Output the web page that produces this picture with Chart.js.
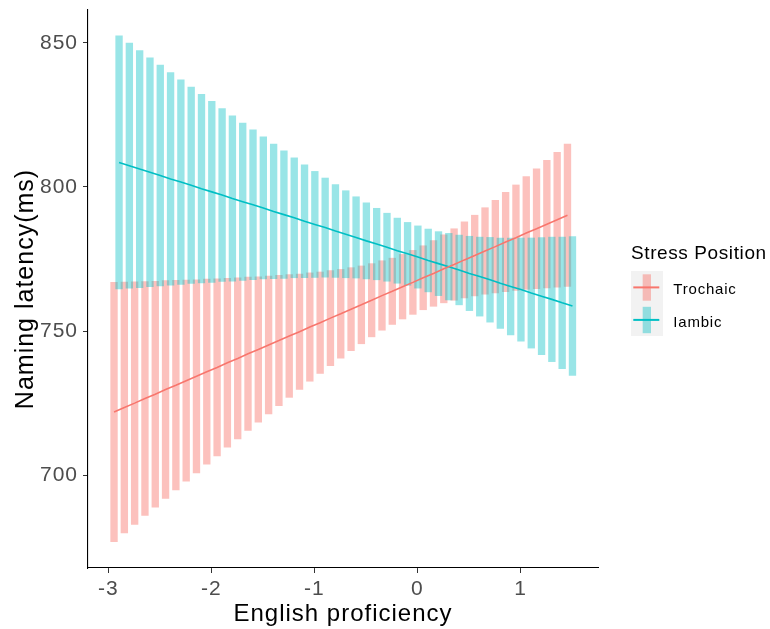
<!DOCTYPE html>
<html>
<head>
<meta charset="utf-8">
<script src="https://cdn.jsdelivr.net/npm/chart.js@4"></script>
<style>
  html, body { margin: 0; padding: 0; background: #ffffff; }
  #wrap { width: 770px; height: 629px; position: relative; }
</style>
</head>
<body>
<div id="wrap"><canvas id="chart" width="770" height="629"></canvas></div>
<script>
// English proficiency grid at which the model predictions are shown
const proficiency = [-2.92, -2.82, -2.72, -2.62, -2.52, -2.42, -2.32, -2.22, -2.12, -2.02,
  -1.92, -1.82, -1.72, -1.62, -1.52, -1.42, -1.32, -1.22, -1.12, -1.02,
  -0.92, -0.82, -0.72, -0.62, -0.52, -0.42, -0.32, -0.22, -0.12, -0.02,
  0.08, 0.18, 0.28, 0.38, 0.48, 0.58, 0.68, 0.78, 0.88, 0.98,
  1.08, 1.18, 1.28, 1.38, 1.48];

// Trochaic: predicted naming latency and its confidence band (ms)
const trochaicFit = [721.9, 723.5, 725.0, 726.6, 728.1, 729.7, 731.2, 732.8, 734.3, 735.9,
  737.4, 739.0, 740.5, 742.1, 743.6, 745.2, 746.7, 748.3, 749.8, 751.4,
  752.9, 754.5, 756.0, 757.6, 759.1, 760.7, 762.3, 763.8, 765.4, 766.9,
  768.5, 770.0, 771.6, 773.1, 774.7, 776.2, 777.8, 779.3, 780.9, 782.4,
  784.0, 785.5, 787.1, 788.6, 790.2];
const trochaicLower = [676.9, 680.0, 682.9, 686.0, 688.9, 691.9, 694.9, 697.9, 700.8, 703.8,
  706.7, 709.7, 712.6, 715.5, 718.4, 721.3, 724.1, 727.0, 729.8, 732.6,
  735.3, 738.0, 740.6, 743.2, 745.6, 748.0, 750.3, 752.3, 754.2, 755.8,
  757.4, 758.6, 759.8, 760.7, 761.5, 762.2, 762.8, 763.2, 763.7, 764.1,
  764.5, 764.7, 765.0, 765.2, 765.5];
const trochaicUpper = [766.9, 767.0, 767.1, 767.2, 767.3, 767.5, 767.6, 767.7, 767.8, 768.0,
  768.1, 768.3, 768.5, 768.7, 768.8, 769.1, 769.3, 769.6, 769.8, 770.2,
  770.5, 771.0, 771.4, 772.0, 772.6, 773.4, 774.4, 775.3, 776.6, 778.0,
  779.6, 781.4, 783.4, 785.5, 787.9, 790.2, 792.8, 795.4, 798.1, 800.7,
  803.6, 806.3, 809.2, 812.0, 814.9];

// Iambic: predicted naming latency and its confidence band (ms)
const iambicFit = [808.5, 807.4, 806.2, 805.1, 804.0, 802.8, 801.7, 800.6, 799.4, 798.3,
  797.2, 796.0, 794.9, 793.8, 792.7, 791.5, 790.4, 789.3, 788.1, 787.0,
  785.9, 784.7, 783.6, 782.5, 781.3, 780.2, 779.1, 777.9, 776.8, 775.7,
  774.5, 773.4, 772.3, 771.2, 770.0, 768.9, 767.8, 766.6, 765.5, 764.4,
  763.2, 762.1, 761.0, 759.8, 758.7];
const iambicLower = [764.6, 764.9, 765.1, 765.4, 765.7, 765.9, 766.2, 766.5, 766.7, 766.9,
  767.2, 767.3, 767.6, 767.8, 768.1, 768.2, 768.3, 768.5, 768.5, 768.6,
  768.7, 768.6, 768.5, 768.4, 768.1, 767.8, 767.3, 766.6, 765.9, 764.9,
  763.6, 762.3, 760.8, 759.1, 757.1, 755.2, 753.1, 750.9, 748.7, 746.5,
  744.1, 741.8, 739.4, 737.0, 734.6];
const iambicUpper = [852.4, 849.9, 847.3, 844.8, 842.3, 839.7, 837.2, 834.7, 832.1, 829.7,
  827.2, 824.7, 822.2, 819.8, 817.4, 814.9, 812.5, 810.1, 807.7, 805.4,
  803.1, 800.8, 798.7, 796.6, 794.5, 792.6, 790.9, 789.2, 787.7, 786.5,
  785.4, 784.5, 783.9, 783.3, 782.9, 782.6, 782.5, 782.3, 782.3, 782.3,
  782.3, 782.4, 782.6, 782.6, 782.8];

const seriesNames = ['Trochaic', 'Iambic'];
const legendTitle = 'Stress Position';
const xTitle = 'English proficiency';
const yTitle = 'Naming latency(ms)';
const xTickValues = [-3, -2, -1, 0, 1];
const yTickValues = [700, 750, 800, 850];

// ---- appearance ----
const COLORS = ['#F8766D', '#00BFC4'];
const BAND_ALPHA = [0.45, 0.4];
const X_MIN = -3.197, X_MAX = 1.752;
const Y_MIN = 667.8, Y_MAX = 861.4;
const DODGE = 0.0243;           // half the side-by-side offset between the two groups
const FONT = '"Liberation Sans", Arial, Helvetica, sans-serif';

function withAlpha(hex, a) {
  const n = parseInt(hex.slice(1), 16);
  return `rgba(${(n >> 16) & 255}, ${(n >> 8) & 255}, ${n & 255}, ${a})`;
}

function bandDataset(k, lower, upper, axisId, order) {
  return {
    type: 'bar',
    label: seriesNames[k],
    data: proficiency.map((x, i) => ({ x: x, y: [lower[i], upper[i]] })),
    backgroundColor: withAlpha(COLORS[k], BAND_ALPHA[k]),
    borderWidth: 0,
    borderSkipped: false,
    barThickness: 6.7,
    grouped: false,
    xAxisID: axisId,
    order: order
  };
}

function fitDataset(k, fit, axisId, order) {
  return {
    type: 'line',
    label: seriesNames[k],
    data: proficiency.map((x, i) => ({ x: x, y: fit[i] })),
    borderColor: COLORS[k],
    borderWidth: 1.6,
    pointRadius: 0,
    fill: false,
    tension: 0,
    xAxisID: axisId,
    order: order
  };
}

// Slightly wider glyph spacing for all chart text
const textSpacing = {
  id: 'textSpacing',
  beforeDraw(chart) { chart.ctx.letterSpacing = '1px'; }
};

// Legend with ggplot-style keys (band + line on a grey key background)
const stressLegend = {
  id: 'stressLegend',
  afterDraw(chart) {
    const ctx = chart.ctx;
    ctx.save();
    ctx.letterSpacing = '0.6px';
    ctx.textAlign = 'left';
    ctx.textBaseline = 'alphabetic';
    ctx.fillStyle = '#000000';
    ctx.font = '19px ' + FONT;
    ctx.fillText(legendTitle, 631, 259);

    ctx.fillStyle = '#F2F2F2';
    ctx.fillRect(631, 271, 32, 65);

    seriesNames.forEach((name, k) => {
      const top = 271 + k * 32.5;
      ctx.fillStyle = withAlpha(COLORS[k], BAND_ALPHA[k]);
      ctx.fillRect(642.7, top + 3.3, 8.3, 26.4);
      ctx.strokeStyle = COLORS[k];
      ctx.lineWidth = 2;
      ctx.beginPath();
      ctx.moveTo(633.3, top + 16.4);
      ctx.lineTo(659.3, top + 16.4);
      ctx.stroke();
      ctx.fillStyle = '#000000';
      ctx.font = '15px ' + FONT;
      ctx.letterSpacing = '0.8px';
      ctx.fillText(name, 673.3, top + 23.3);
    });
    ctx.restore();
  }
};

Chart.defaults.font.family = FONT;

const hiddenX = (shift) => ({
  type: 'linear',
  display: false,
  offset: false,
  min: X_MIN + shift,
  max: X_MAX + shift
});

new Chart(document.getElementById('chart'), {
  type: 'bar',
  data: {
    datasets: [
      fitDataset(0, trochaicFit, 'xTrochaic', 0),
      fitDataset(1, iambicFit, 'xIambic', 0),
      bandDataset(1, iambicLower, iambicUpper, 'xIambic', 1),
      bandDataset(0, trochaicLower, trochaicUpper, 'xTrochaic', 2)
    ]
  },
  options: {
    responsive: false,
    animation: false,
    devicePixelRatio: 1,
    layout: { padding: { top: 10, right: 172, bottom: 0, left: 0 } },
    plugins: {
      legend: { display: false },
      tooltip: { enabled: false }
    },
    scales: {
      x: {
        type: 'linear',
        position: 'bottom',
        offset: false,
        min: X_MIN,
        max: X_MAX,
        afterBuildTicks: (s) => { s.ticks = xTickValues.map(v => ({ value: v })); },
        afterFit: (s) => { s.height = 61; s.paddingLeft = 0; s.paddingRight = 0; },
        grid: { offset: false, drawOnChartArea: false, drawTicks: true, tickLength: 5, color: '#333333', lineWidth: 1 },
        border: { display: true, color: '#000000', width: 1.1 },
        ticks: { color: '#4D4D4D', font: { size: 21 }, padding: 4, maxRotation: 0, autoSkip: false },
        title: { display: true, text: xTitle, color: '#000000', font: { size: 24 }, padding: { top: 0, bottom: 0 } }
      },
      xTrochaic: hiddenX(DODGE),
      xIambic: hiddenX(-DODGE),
      y: {
        type: 'linear',
        position: 'left',
        min: Y_MIN,
        max: Y_MAX,
        beginAtZero: false,
        afterBuildTicks: (s) => { s.ticks = yTickValues.map(v => ({ value: v })); },
        afterFit: (s) => { s.width = 88; s.paddingTop = 0; s.paddingBottom = 0; },
        grid: { drawOnChartArea: false, drawTicks: true, tickLength: 5, color: '#333333', lineWidth: 1 },
        border: { display: true, color: '#000000', width: 1.1 },
        ticks: { color: '#4D4D4D', font: { size: 21 }, padding: 5 },
        title: { display: true, text: yTitle, color: '#000000', font: { size: 25 }, padding: { top: 11.5, bottom: 0 } }
      }
    }
  },
  plugins: [textSpacing, stressLegend]
});
</script>
</body>
</html>
